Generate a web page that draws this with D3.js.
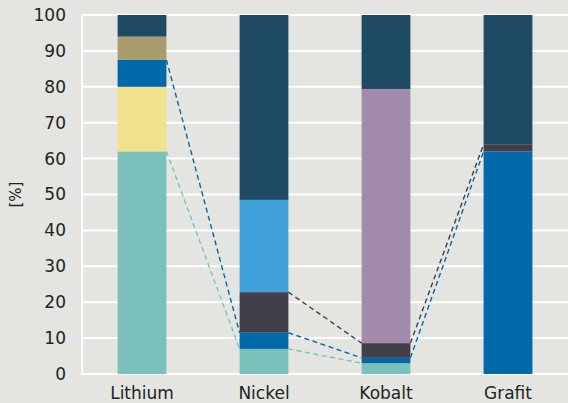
<!DOCTYPE html>
<html>
<head>
<meta charset="utf-8">
<script src="https://cdn.jsdelivr.net/npm/d3@7"></script>
<style>
  html, body { margin: 0; padding: 0; background: #e4e4e0; }
  svg { display: block; font-family: "DejaVu Sans", sans-serif; }
</style>
</head>
<body>
<div id="chartDiv"></div>
<script>
// stacked shares per raw material, bottom to top
const categories = ['Lithium', 'Nickel', 'Kobalt', 'Grafit'];
const seriesKeys = ['s1', 's2', 's3', 's4', 's5', 's6', 's7', 's8'];
const seriesColors = ['#7ac1bb', '#f0e28c', '#0069aa', '#a89b6c', '#423f4a', '#3fa0da', '#a28bab', '#1f4a63'];
const s1 = [62, 7, 3, 0];
const s2 = [18, 0, 0, 0];
const s3 = [7.5, 4.5, 1.5, 62];
const s4 = [6.5, 0, 0, 0];
const s5 = [0, 11.3, 4.1, 2];
const s6 = [0, 25.7, 0, 0];
const s7 = [0, 0, 70.8, 0];
const s8 = [6, 51.5, 20.6, 36];
const yTicks = [0, 10, 20, 30, 40, 50, 60, 70, 80, 90, 100];
// series that get dashed connector lines
const linkKeys = ['s1', 's3', 's5'];

const seriesValues = [s1, s2, s3, s4, s5, s6, s7, s8];
const rows = categories.map((c, i) => {
    const r = { cat: c };
    seriesKeys.forEach((k, j) => { r[k] = seriesValues[j][i]; });
    return r;
});
const colorOf = d3.scaleOrdinal().domain(seriesKeys).range(seriesColors);

const W = 568, H = 403;
const m = { top: 15, right: 0, bottom: 29, left: 82 };

const svg = d3.select('#chartDiv').append('svg')
    .attr('width', W)
    .attr('height', H);

svg.append('rect').attr('width', W).attr('height', H).attr('fill', '#e4e4e0');

const x = d3.scaleBand()
    .domain(categories)
    .range([m.left - 1, W + 1])
    .paddingInner(0.6)
    .paddingOuter(0.3);

const y = d3.scaleLinear()
    .domain([0, 100])
    .range([H - m.bottom, m.top]);

// grid
svg.append('g').selectAll('line')
    .data(yTicks)
    .enter().append('line')
    .attr('x1', m.left - 1)
    .attr('x2', W)
    .attr('y1', d => y(d))
    .attr('y2', d => y(d))
    .attr('stroke', '#ffffff')
    .attr('stroke-width', 2);

svg.append('line')
    .attr('x1', m.left)
    .attr('x2', m.left)
    .attr('y1', y(100) - 1)
    .attr('y2', y(0) + 1)
    .attr('stroke', '#ffffff')
    .attr('stroke-width', 2);

// y axis labels
const yAxis = svg.append('g')
    .attr('transform', `translate(${m.left - 16},0)`)
    .call(d3.axisLeft(y).tickValues(yTicks).tickSize(0).tickPadding(0));
yAxis.select('.domain').remove();
yAxis.selectAll('text')
    .attr('font-size', 17)
    .attr('font-family', '"DejaVu Sans", sans-serif')
    .attr('fill', '#222222');

svg.append('text')
    .attr('transform', `translate(21,${y(50)}) rotate(-90)`)
    .attr('text-anchor', 'middle')
    .attr('font-size', 15)
    .attr('fill', '#222222')
    .text('[%]');

// x axis labels
const xAxis = svg.append('g')
    .attr('transform', `translate(0,${y(0) + 13})`)
    .call(d3.axisBottom(x).tickSize(0).tickPadding(0));
xAxis.select('.domain').remove();
xAxis.selectAll('text')
    .attr('font-size', 17)
    .attr('font-family', '"DejaVu Sans", sans-serif')
    .attr('fill', '#222222');

// bars
const stacked = d3.stack().keys(seriesKeys)(rows);

svg.append('g').selectAll('g')
    .data(stacked)
    .enter().append('g')
    .attr('fill', d => colorOf(d.key))
    .selectAll('rect')
    .data(d => d.filter(p => p[1] > p[0]))
    .enter().append('rect')
    .attr('x', d => x(d.data.cat))
    .attr('width', x.bandwidth())
    .attr('y', d => y(d[1]))
    .attr('height', d => y(d[0]) - y(d[1]));

// dashed connectors between segment tops of neighbouring bars
const links = [];
stacked.filter(s => linkKeys.includes(s.key)).forEach(s => {
    for (let i = 0; i < s.length - 1; i++) {
        const a = s[i], b = s[i + 1];
        if (a[1] > a[0] && b[1] > b[0]) {
            links.push({ key: s.key, from: a, to: b });
        }
    }
});

svg.append('g').selectAll('line')
    .data(links)
    .enter().append('line')
    .attr('x1', d => x(d.from.data.cat) + x.bandwidth())
    .attr('y1', d => y(d.from[1]))
    .attr('x2', d => x(d.to.data.cat))
    .attr('y2', d => y(d.to[1]))
    .attr('stroke', d => colorOf(d.key))
    .attr('stroke-width', 1.4)
    .attr('stroke-dasharray', '5,3.5');
</script>
</body>
</html>
